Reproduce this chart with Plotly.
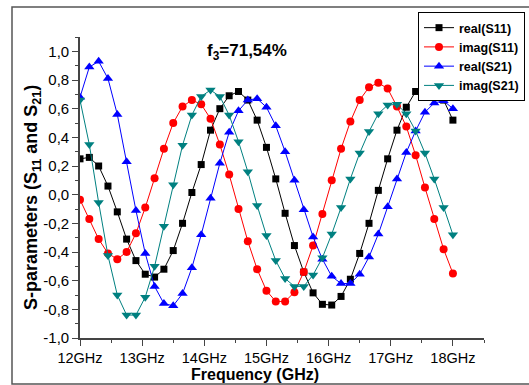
import plotly.graph_objects as go

freq = [12 + 0.15 * i for i in range(41)]

real_s11 = [0.25, 0.26, 0.20, 0.06, -0.12, -0.31, -0.46, -0.555, -0.575, -0.52,
            -0.39, -0.20, 0.015, 0.21, 0.45, 0.60, 0.69, 0.72, 0.66, 0.52,
            0.33, 0.11, -0.13, -0.355, -0.54, -0.685, -0.765, -0.77, -0.71, -0.59,
            -0.41, -0.20, 0.03, 0.25, 0.45, 0.61, 0.72, 0.765, 0.74, 0.66, 0.52]
imag_s11 = [-0.035, -0.17, -0.31, -0.41, -0.45, -0.40, -0.27, -0.09, 0.115, 0.32,
            0.50, 0.615, 0.66, 0.63, 0.53, 0.35, 0.14, -0.10, -0.325, -0.52,
            -0.67, -0.745, -0.745, -0.68, -0.54, -0.355, -0.135, 0.10, 0.32, 0.51,
            0.66, 0.75, 0.78, 0.74, 0.615, 0.475, 0.275, 0.05, -0.17, -0.38, -0.55]
real_s21 = [0.68, 0.89, 0.93, 0.81, 0.56, 0.23, -0.11, -0.41, -0.64, -0.76,
            -0.775, -0.69, -0.51, -0.28, -0.025, 0.22, 0.435, 0.585, 0.66, 0.67,
            0.61, 0.48, 0.30, 0.10, -0.105, -0.295, -0.45, -0.57, -0.62, -0.62,
            -0.555, -0.435, -0.275, -0.085, 0.11, 0.295, 0.445, 0.575, 0.64, 0.655, 0.60]
imag_s21 = [0.66, 0.35, -0.055, -0.425, -0.70, -0.84, -0.84, -0.715, -0.50, -0.22,
            0.07, 0.345, 0.555, 0.685, 0.73, 0.685, 0.555, 0.37, 0.16, -0.075,
            -0.285, -0.46, -0.585, -0.64, -0.64, -0.56, -0.44, -0.275, -0.09, 0.11,
            0.29, 0.44, 0.565, 0.625, 0.63, 0.565, 0.445, 0.29, 0.11, -0.09, -0.28]

x_tickvals = [12, 13, 14, 15, 16, 17, 18]
x_ticktext = ["12GHz", "13GHz", "14GHz", "15GHz", "16GHz", "17GHz", "18GHz"]
y_tickvals = [-1.0, -0.8, -0.6, -0.4, -0.2, 0.0, 0.2, 0.4, 0.6, 0.8, 1.0]
y_ticktext = ["-1,0", "-0,8", "-0,6", "-0,4", "-0,2", "0,0", "0,2", "0,4", "0,6", "0,8", "1,0"]

series = [
    ("real(S11)", real_s11, "#000000", "square", 7),
    ("imag(S11)", imag_s11, "#FF0000", "circle", 8),
    ("real(S21)", real_s21, "#0000FF", "triangle-up", 9),
    ("imag(S21)", imag_s21, "#008080", "triangle-down", 9),
]

fig = go.Figure()
for name, vals, color, sym, size in series:
    fig.add_trace(go.Scatter(
        x=freq, y=vals, name=name, mode="lines+markers",
        line=dict(color=color, width=1),
        marker=dict(symbol=sym, size=size, color=color, line=dict(width=0)),
    ))

axis_color = "#444444"
fig.update_layout(
    width=529, height=385,
    margin=dict(l=80, r=45, t=37, b=47, autoexpand=False),
    paper_bgcolor="white", plot_bgcolor="white",
    font=dict(family="Arial, Liberation Sans, sans-serif", color="black"),
    showlegend=True,
    legend=dict(
        x=1.1015, y=1.083, xanchor="right", yanchor="top",
        bgcolor="white", bordercolor="black", borderwidth=1,
        font=dict(size=12.5, family="Arial, Liberation Sans, sans-serif", weight="bold"),
        itemwidth=30, tracegroupgap=0,
    ),
    xaxis=dict(
        range=[12, 18.5], tickmode="array", tickvals=x_tickvals, ticktext=x_ticktext,
        showgrid=False, zeroline=False, showline=True, linecolor=axis_color, linewidth=1.6,
        ticks="outside", ticklen=6, tickwidth=1.2, tickcolor=axis_color,
        tickfont=dict(size=14.5), automargin=False,
        minor=dict(tickmode="linear", tick0=12, dtick=0.5, ticks="outside", ticklen=3,
                   tickwidth=1.2, tickcolor=axis_color, showgrid=False),
    ),
    yaxis=dict(
        range=[-1.0, 1.1], tickmode="array", tickvals=y_tickvals, ticktext=y_ticktext,
        showgrid=False, zeroline=False, showline=True, linecolor=axis_color, linewidth=1.6,
        ticks="outside", ticklen=6, tickwidth=1.2, tickcolor=axis_color,
        tickfont=dict(size=15), automargin=False,
        minor=dict(tickmode="linear", tick0=-1.0, dtick=0.1, ticks="outside", ticklen=3,
                   tickwidth=1.2, tickcolor=axis_color, showgrid=False),
    ),
)

fig.add_annotation(
    text="<b>f<sub>3</sub>=71,54%</b>", xref="paper", yref="paper",
    x=0.413, y=0.950, xanchor="center", yanchor="middle", showarrow=False,
    font=dict(size=17),
)
fig.add_annotation(
    text="<b>Frequency (GHz)</b>", xref="paper", yref="paper",
    x=0.433, y=-0.122, xanchor="center", yanchor="middle", showarrow=False,
    font=dict(size=16),
)
fig.add_annotation(
    text="<b>S-parameters (S<sub>11</sub> and S<sub>21</sub>)</b>", xref="paper", yref="paper",
    x=-0.119, y=0.468, xanchor="center", yanchor="middle", showarrow=False,
    textangle=-90, font=dict(size=18),
)

fig.add_shape(
    type="rect", xref="paper", yref="paper",
    x0=(12 - 80) / 404, x1=(531 - 80) / 404, y0=(338 - 384) / 301, y1=(338 - 7) / 301,
    line=dict(color="#555555", width=1.5), fillcolor="rgba(0,0,0,0)", layer="below",
)

fig.write_html("out.html", config={"displayModeBar": False},
               post_script="document.body.style.margin='0';document.body.style.overflow='hidden';")
